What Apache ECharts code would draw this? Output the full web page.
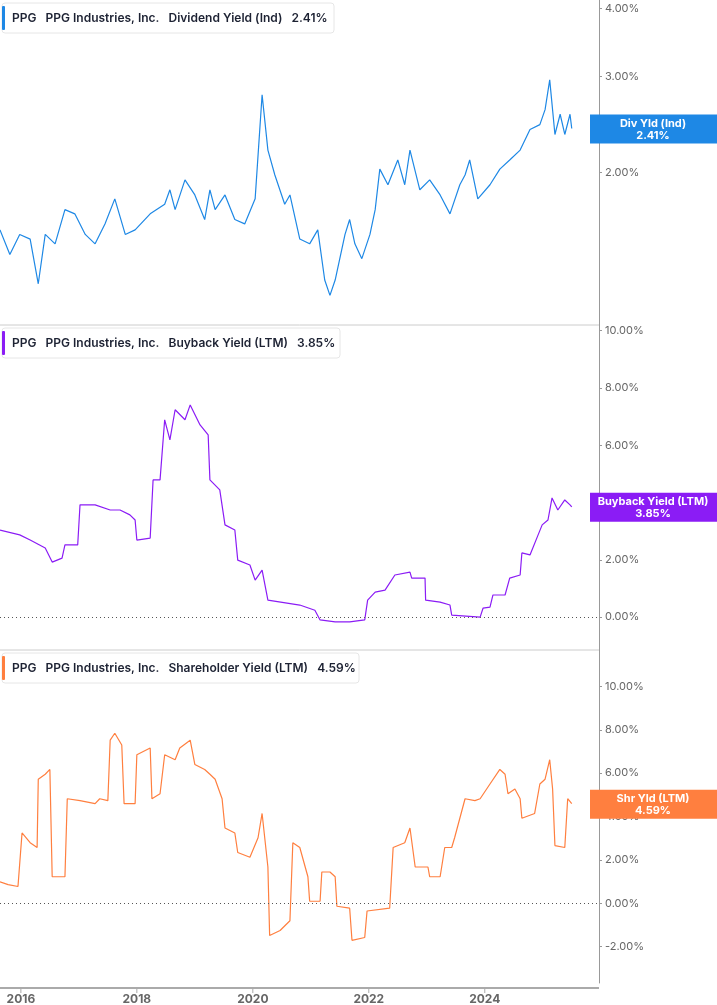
<!DOCTYPE html>
<html><head><meta charset="utf-8">
<script src="https://cdn.jsdelivr.net/npm/echarts@6/dist/echarts.min.js"></script>
<style>html,body{margin:0;padding:0;background:#fff}#c{width:717px;height:1005px}</style>
</head><body><div id="c"></div>
<script>
// Dividend Yield (Ind), %
const divYears = [2015.64,2015.81,2015.98,2016.16,2016.30,2016.42,2016.59,2016.76,2016.93,2017.11,2017.28,2017.45,2017.62,2017.80,2017.97,2018.23,2018.48,2018.57,2018.66,2018.83,2019.00,2019.17,2019.26,2019.35,2019.52,2019.69,2019.86,2020.04,2020.16,2020.26,2020.38,2020.55,2020.64,2020.81,2020.98,2021.12,2021.24,2021.33,2021.42,2021.59,2021.67,2021.76,2021.88,2022.02,2022.11,2022.19,2022.33,2022.50,2022.62,2022.71,2022.88,2023.05,2023.23,2023.40,2023.57,2023.66,2023.74,2023.88,2024.09,2024.26,2024.43,2024.61,2024.78,2024.95,2025.04,2025.12,2025.21,2025.30,2025.38,2025.47,2025.50];
const divValues = [1.57,1.415,1.54,1.51,1.25,1.54,1.48,1.71,1.68,1.54,1.48,1.61,1.79,1.54,1.57,1.68,1.75,1.86,1.71,1.94,1.82,1.64,1.86,1.71,1.82,1.64,1.61,1.79,2.78,2.20,1.98,1.75,1.82,1.51,1.48,1.57,1.27,1.19,1.27,1.54,1.64,1.48,1.39,1.54,1.71,2.03,1.90,2.11,1.90,2.20,1.86,1.94,1.82,1.68,1.90,1.98,2.11,1.79,1.90,2.03,2.11,2.20,2.40,2.45,2.61,2.96,2.35,2.56,2.35,2.56,2.41];
// Buyback Yield (LTM), %
const bbYears = [2015.64,2015.98,2016.16,2016.42,2016.54,2016.71,2016.76,2016.98,2017.02,2017.28,2017.54,2017.71,2017.88,2017.97,2018.00,2018.23,2018.28,2018.40,2018.48,2018.57,2018.66,2018.83,2018.92,2019.09,2019.23,2019.26,2019.43,2019.52,2019.69,2019.74,2019.95,2020.04,2020.16,2020.26,2020.81,2021.07,2021.16,2021.42,2021.67,2021.93,2021.98,2022.11,2022.28,2022.45,2022.71,2022.74,2022.97,2022.98,2023.23,2023.40,2023.43,2023.92,2023.97,2024.09,2024.14,2024.35,2024.43,2024.61,2024.64,2024.78,2024.92,2024.99,2025.09,2025.16,2025.26,2025.38,2025.47,2025.50];
const bbValues = [3.04,2.87,2.69,2.41,1.92,2.06,2.52,2.52,3.92,3.92,3.74,3.74,3.57,3.39,2.69,2.76,4.79,4.79,6.89,6.19,7.24,6.89,7.41,6.71,6.36,4.79,4.44,3.22,3.04,1.99,1.82,1.29,1.64,0.59,0.42,0.24,-0.10,-0.17,-0.17,-0.10,0.59,0.87,0.94,1.47,1.57,1.36,1.36,0.59,0.52,0.42,0.07,0,0.31,0.35,0.77,0.77,1.36,1.47,2.24,2.17,2.87,3.22,3.39,4.16,3.74,4.09,3.92,3.85];
// Shareholder Yield (LTM), %
const shYears = [2015.64,2015.78,2015.81,2015.95,2016.02,2016.16,2016.28,2016.30,2016.42,2016.50,2016.54,2016.76,2016.80,2017.02,2017.28,2017.36,2017.50,2017.54,2017.62,2017.74,2017.78,2017.97,2018.00,2018.23,2018.26,2018.40,2018.48,2018.66,2018.74,2018.92,2019.00,2019.17,2019.26,2019.35,2019.47,2019.52,2019.69,2019.74,2019.95,2020.09,2020.16,2020.26,2020.29,2020.47,2020.64,2020.69,2020.81,2020.95,2020.98,2021.16,2021.19,2021.33,2021.42,2021.45,2021.67,2021.71,2021.93,2021.97,2022.36,2022.42,2022.62,2022.71,2022.80,2023.02,2023.05,2023.23,2023.31,2023.43,2023.48,2023.66,2023.83,2023.92,2024.09,2024.26,2024.35,2024.40,2024.52,2024.61,2024.64,2024.86,2024.95,2025.04,2025.12,2025.17,2025.21,2025.38,2025.43,2025.50];
const shValues = [0.99,0.86,0.86,0.77,3.24,2.79,2.57,5.72,5.95,6.17,1.22,1.22,4.82,4.73,4.59,4.82,4.73,7.52,7.84,7.30,4.59,4.59,6.85,7.16,4.82,5.05,6.85,6.62,7.16,7.52,6.40,6.17,5.95,5.72,4.82,3.47,3.24,2.34,2.12,3.02,4.14,1.67,-1.49,-1.26,-0.81,2.79,2.57,1.22,0.09,0.09,1.44,1.44,1.22,-0.14,-0.23,-1.71,-1.58,-0.36,-0.23,2.57,2.79,3.47,1.67,1.67,1.22,1.22,2.57,2.57,3.02,4.82,4.73,4.82,5.50,6.17,5.95,5.05,5.27,4.82,3.92,4.14,5.50,5.72,6.62,5.27,2.66,2.57,4.82,4.59];

const xTicks = [2016,2018,2020,2022,2024];
const divTicks = [2,3,4];
const bbTicks = [0,2,4,6,8,10];
const shTicks = [-2,0,2,4,6,8,10];

const titles = ['Dividend Yield (Ind)','Buyback Yield (LTM)','Shareholder Yield (LTM)'];
const tagNames = ['Div Yld (Ind)','Buyback Yield (LTM)','Shr Yld (LTM)'];
const colors = ['#1e88e5','#8b1cf5','#ff7f3f'];

const zip = (a,b)=>a.map((x,i)=>[x,b[i]]);
const chart = echarts.init(document.getElementById('c'));
const fmt = v => v.toFixed(2)+'%';
const grids = [{left:0,right:118,top:0,height:325},{left:0,right:118,top:325,height:325},{left:0,right:118,top:650,height:338}];
const xAxes = grids.map((g,i)=>({type:'value',gridIndex:i,min:2015.64,max:2025.97,
  axisLine:{show:false},axisTick:{show:false},
  splitLine:{show:false},axisLabel:{show:i===2,customValues:xTicks,formatter:v=>String(v),color:'#666',fontWeight:'bold',fontSize:12,fontFamily:'Inter',margin:10}}));
const yBase = {position:'right',axisLine:{show:true,lineStyle:{color:'#999'}},axisTick:{show:true,length:3,lineStyle:{color:'#999'}},splitLine:{show:false},
  axisLabel:{color:'#666',fontSize:11,fontFamily:'Inter',formatter:fmt,margin:6}};
const yAxes = [
  Object.assign({},yBase,{type:'log',gridIndex:0,min:1.05,max:4.15,axisLabel:Object.assign({},yBase.axisLabel,{customValues:divTicks}),axisTick:Object.assign({},yBase.axisTick,{customValues:divTicks})}),
  Object.assign({},yBase,{type:'value',gridIndex:1,min:-1.15,max:10.2,axisLabel:Object.assign({},yBase.axisLabel,{customValues:bbTicks}),axisTick:Object.assign({},yBase.axisTick,{customValues:bbTicks})}),
  Object.assign({},yBase,{type:'value',gridIndex:2,min:-3.68,max:11.68,axisLabel:Object.assign({},yBase.axisLabel,{customValues:shTicks}),axisTick:Object.assign({},yBase.axisTick,{customValues:shTicks})})
];
const zeroLine = {silent:true,symbol:'none',label:{show:false},lineStyle:{color:'#555',type:[1,3],width:1},data:[{yAxis:0}]};
const datas = [zip(divYears,divValues),zip(bbYears,bbValues),zip(shYears,shValues)];
const series = datas.map((d,i)=>({type:'line',xAxisIndex:i,yAxisIndex:i,data:d,showSymbol:false,animation:false,
  lineStyle:{color:colors[i],width:1.2},markLine:i>0?zeroLine:undefined}));
chart.setOption({animation:false,grid:grids,xAxis:xAxes,yAxis:yAxes,series});

const lastVals = [divValues.at(-1),bbValues.at(-1),shValues.at(-1)];
const headerW = [332,338,357];
const graphics = [];
[325,650].forEach(y=>graphics.push({type:'line',shape:{x1:0,y1:y,x2:599,y2:y},style:{stroke:'#ccc',lineWidth:1}}));
// bottom x-axis line and ticks
const g3 = grids[2], axisY = g3.top + g3.height;
graphics.push({type:'line',shape:{x1:0,y1:axisY,x2:599,y2:axisY},style:{stroke:'#aaa',lineWidth:2},z:5});
xTicks.forEach(t=>{const px = chart.convertToPixel({xAxisIndex:2},t);
  graphics.push({type:'line',shape:{x1:px,y1:axisY,x2:px,y2:axisY+5},style:{stroke:'#aaa',lineWidth:1},z:5});});
grids.forEach((g,i)=>{
  const top = g.top+3;
  graphics.push({type:'rect',shape:{x:2,y:top,width:headerW[i],height:30,r:3},style:{fill:'#fff',stroke:'#e6e6e6'},z:10});
  graphics.push({type:'rect',shape:{x:2,y:top+3,width:3,height:24,r:1},style:{fill:colors[i]},z:11});
  graphics.push({type:'text',x:12,y:top+15,style:{text:'PPG   PPG Industries, Inc.   '+titles[i]+'   '+fmt(lastVals[i]),
    font:'600 12px Inter',fill:'#1d2233',verticalAlign:'middle'},z:11});
  const py = chart.convertToPixel({yAxisIndex:i},lastVals[i]);
  graphics.push({type:'rect',shape:{x:590,y:py-14,width:127,height:29},style:{fill:colors[i]},z:10});
  graphics.push({type:'text',x:653,y:py+1,style:{text:tagNames[i]+'\n'+fmt(lastVals[i]),font:'bold 11px Inter',fill:'#fff',align:'center',verticalAlign:'middle',lineHeight:12},z:11});
});
chart.setOption({graphic:graphics});
</script></body></html>
